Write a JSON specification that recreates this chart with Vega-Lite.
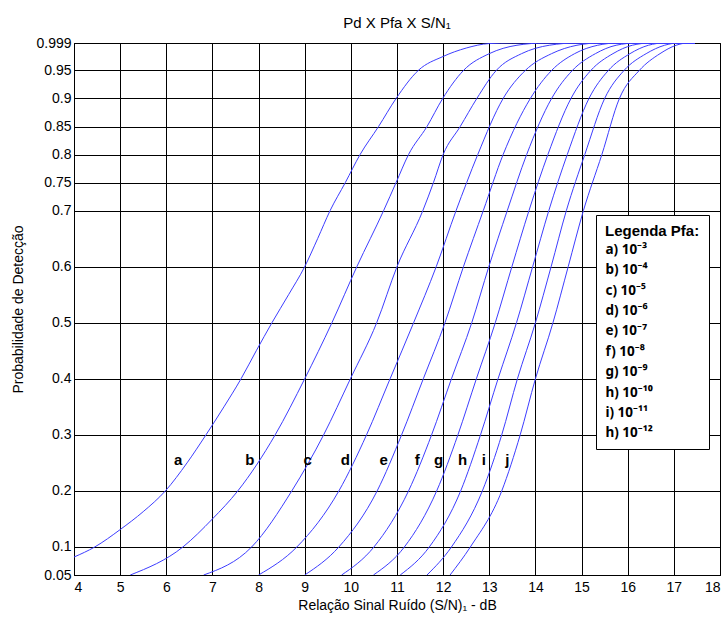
{
  "$schema": "https://vega.github.io/schema/vega-lite/v6.json",
  "width": 646,
  "height": 532,
  "autosize": {"type": "none"},
  "padding": {"left": 74, "top": 43, "right": 8, "bottom": 42},
  "title": {"text": "Pd X Pfa X S/N₁", "fontSize": 15, "fontWeight": "normal", "font": "Liberation Sans", "color": "#000", "offset": 5},
  "config": {
    "font": "Liberation Sans",
    "view": {"stroke": "#000", "strokeWidth": 1},
    "axis": {
      "domainColor": "#000", "gridColor": "#000", "gridOpacity": 1, "gridWidth": 1,
      "ticks": false, "labelColor": "#000", "labelFontSize": 14, "titleColor": "#000",
      "titleFontSize": 14, "titleFontWeight": "normal", "labelFont": "Liberation Sans", "titleFont": "Liberation Sans"
    }
  },
  "datasets": {
    "curvas": [
      {"curva":"a) 10⁻³","snr":4,"pd":0.082},{"curva":"a) 10⁻³","snr":4.45,"pd":0.1},{"curva":"a) 10⁻³","snr":5,"pd":0.131},{"curva":"a) 10⁻³","snr":5.5,"pd":0.163},{"curva":"a) 10⁻³","snr":5.98,"pd":0.2},{"curva":"a) 10⁻³","snr":6.45,"pd":0.25},{"curva":"a) 10⁻³","snr":6.86,"pd":0.3},{"curva":"a) 10⁻³","snr":7.25,"pd":0.35},{"curva":"a) 10⁻³","snr":7.62,"pd":0.4},{"curva":"a) 10⁻³","snr":7.95,"pd":0.45},{"curva":"a) 10⁻³","snr":8.29,"pd":0.5},{"curva":"a) 10⁻³","snr":8.65,"pd":0.55},{"curva":"a) 10⁻³","snr":9.0,"pd":0.6},{"curva":"a) 10⁻³","snr":9.28,"pd":0.65},{"curva":"a) 10⁻³","snr":9.55,"pd":0.7},{"curva":"a) 10⁻³","snr":9.88,"pd":0.75},{"curva":"a) 10⁻³","snr":10.2,"pd":0.8},{"curva":"a) 10⁻³","snr":10.6,"pd":0.85},{"curva":"a) 10⁻³","snr":10.98,"pd":0.9},{"curva":"a) 10⁻³","snr":11.46,"pd":0.95},{"curva":"a) 10⁻³","snr":12.0,"pd":0.975},{"curva":"a) 10⁻³","snr":12.5,"pd":0.99},{"curva":"a) 10⁻³","snr":13.0,"pd":0.998},{"curva":"a) 10⁻³","snr":13.5,"pd":0.999},{"curva":"a) 10⁻³","snr":17.45,"pd":0.999},
      {"curva":"b) 10⁻⁴","snr":5.22,"pd":0.05},{"curva":"b) 10⁻⁴","snr":6.36,"pd":0.1},{"curva":"b) 10⁻⁴","snr":7.0,"pd":0.15},{"curva":"b) 10⁻⁴","snr":7.55,"pd":0.2},{"curva":"b) 10⁻⁴","snr":8.36,"pd":0.3},{"curva":"b) 10⁻⁴","snr":9.0,"pd":0.4},{"curva":"b) 10⁻⁴","snr":9.59,"pd":0.5},{"curva":"b) 10⁻⁴","snr":10.13,"pd":0.6},{"curva":"b) 10⁻⁴","snr":10.71,"pd":0.7},{"curva":"b) 10⁻⁴","snr":10.98,"pd":0.75},{"curva":"b) 10⁻⁴","snr":11.25,"pd":0.8},{"curva":"b) 10⁻⁴","snr":11.65,"pd":0.85},{"curva":"b) 10⁻⁴","snr":11.99,"pd":0.9},{"curva":"b) 10⁻⁴","snr":12.44,"pd":0.95},{"curva":"b) 10⁻⁴","snr":13.0,"pd":0.98},{"curva":"b) 10⁻⁴","snr":13.6,"pd":0.995},{"curva":"b) 10⁻⁴","snr":14.2,"pd":0.999},{"curva":"b) 10⁻⁴","snr":17.45,"pd":0.999},
      {"curva":"c) 10⁻⁵","snr":6.81,"pd":0.05},{"curva":"c) 10⁻⁵","snr":7.85,"pd":0.1},{"curva":"c) 10⁻⁵","snr":8.72,"pd":0.2},{"curva":"c) 10⁻⁵","snr":9.41,"pd":0.3},{"curva":"c) 10⁻⁵","snr":9.99,"pd":0.4},{"curva":"c) 10⁻⁵","snr":10.56,"pd":0.5},{"curva":"c) 10⁻⁵","snr":11.0,"pd":0.6},{"curva":"c) 10⁻⁵","snr":11.56,"pd":0.7},{"curva":"c) 10⁻⁵","snr":11.79,"pd":0.75},{"curva":"c) 10⁻⁵","snr":12.0,"pd":0.8},{"curva":"c) 10⁻⁵","snr":12.37,"pd":0.85},{"curva":"c) 10⁻⁵","snr":12.73,"pd":0.9},{"curva":"c) 10⁻⁵","snr":13.15,"pd":0.95},{"curva":"c) 10⁻⁵","snr":13.7,"pd":0.98},{"curva":"c) 10⁻⁵","snr":14.3,"pd":0.995},{"curva":"c) 10⁻⁵","snr":14.9,"pd":0.999},{"curva":"c) 10⁻⁵","snr":17.45,"pd":0.999},
      {"curva":"d) 10⁻⁶","snr":8.0,"pd":0.05},{"curva":"d) 10⁻⁶","snr":8.83,"pd":0.1},{"curva":"d) 10⁻⁶","snr":9.74,"pd":0.2},{"curva":"d) 10⁻⁶","snr":10.34,"pd":0.3},{"curva":"d) 10⁻⁶","snr":10.85,"pd":0.4},{"curva":"d) 10⁻⁶","snr":11.36,"pd":0.5},{"curva":"d) 10⁻⁶","snr":11.85,"pd":0.6},{"curva":"d) 10⁻⁶","snr":12.28,"pd":0.7},{"curva":"d) 10⁻⁶","snr":12.51,"pd":0.75},{"curva":"d) 10⁻⁶","snr":12.75,"pd":0.8},{"curva":"d) 10⁻⁶","snr":13.3,"pd":0.9},{"curva":"d) 10⁻⁶","snr":13.78,"pd":0.95},{"curva":"d) 10⁻⁶","snr":14.35,"pd":0.98},{"curva":"d) 10⁻⁶","snr":14.9,"pd":0.995},{"curva":"d) 10⁻⁶","snr":15.4,"pd":0.999},{"curva":"d) 10⁻⁶","snr":17.45,"pd":0.999},
      {"curva":"e) 10⁻⁷","snr":9.0,"pd":0.05},{"curva":"e) 10⁻⁷","snr":9.74,"pd":0.1},{"curva":"e) 10⁻⁷","snr":10.57,"pd":0.2},{"curva":"e) 10⁻⁷","snr":11.1,"pd":0.3},{"curva":"e) 10⁻⁷","snr":11.57,"pd":0.4},{"curva":"e) 10⁻⁷","snr":12.04,"pd":0.5},{"curva":"e) 10⁻⁷","snr":12.44,"pd":0.6},{"curva":"e) 10⁻⁷","snr":12.87,"pd":0.7},{"curva":"e) 10⁻⁷","snr":13.3,"pd":0.8},{"curva":"e) 10⁻⁷","snr":13.89,"pd":0.9},{"curva":"e) 10⁻⁷","snr":14.35,"pd":0.95},{"curva":"e) 10⁻⁷","snr":14.85,"pd":0.98},{"curva":"e) 10⁻⁷","snr":15.35,"pd":0.995},{"curva":"e) 10⁻⁷","snr":15.8,"pd":0.999},{"curva":"e) 10⁻⁷","snr":17.45,"pd":0.999},
      {"curva":"f) 10⁻⁸","snr":9.8,"pd":0.05},{"curva":"f) 10⁻⁸","snr":10.5,"pd":0.1},{"curva":"f) 10⁻⁸","snr":11.25,"pd":0.2},{"curva":"f) 10⁻⁸","snr":11.75,"pd":0.3},{"curva":"f) 10⁻⁸","snr":12.18,"pd":0.4},{"curva":"f) 10⁻⁸","snr":12.62,"pd":0.5},{"curva":"f) 10⁻⁸","snr":12.99,"pd":0.6},{"curva":"f) 10⁻⁸","snr":13.39,"pd":0.7},{"curva":"f) 10⁻⁸","snr":13.81,"pd":0.8},{"curva":"f) 10⁻⁸","snr":14.35,"pd":0.9},{"curva":"f) 10⁻⁸","snr":14.8,"pd":0.95},{"curva":"f) 10⁻⁸","snr":15.3,"pd":0.98},{"curva":"f) 10⁻⁸","snr":15.75,"pd":0.995},{"curva":"f) 10⁻⁸","snr":16.2,"pd":0.999},{"curva":"f) 10⁻⁸","snr":17.45,"pd":0.999},
      {"curva":"g) 10⁻⁹","snr":10.49,"pd":0.05},{"curva":"g) 10⁻⁹","snr":11.16,"pd":0.1},{"curva":"g) 10⁻⁹","snr":11.86,"pd":0.2},{"curva":"g) 10⁻⁹","snr":12.32,"pd":0.3},{"curva":"g) 10⁻⁹","snr":12.72,"pd":0.4},{"curva":"g) 10⁻⁹","snr":13.13,"pd":0.5},{"curva":"g) 10⁻⁹","snr":13.49,"pd":0.6},{"curva":"g) 10⁻⁹","snr":13.86,"pd":0.7},{"curva":"g) 10⁻⁹","snr":14.27,"pd":0.8},{"curva":"g) 10⁻⁹","snr":14.77,"pd":0.9},{"curva":"g) 10⁻⁹","snr":15.2,"pd":0.95},{"curva":"g) 10⁻⁹","snr":15.68,"pd":0.98},{"curva":"g) 10⁻⁹","snr":16.1,"pd":0.995},{"curva":"g) 10⁻⁹","snr":16.5,"pd":0.999},{"curva":"g) 10⁻⁹","snr":17.45,"pd":0.999},
      {"curva":"h) 10⁻¹⁰","snr":11.07,"pd":0.05},{"curva":"h) 10⁻¹⁰","snr":11.7,"pd":0.1},{"curva":"h) 10⁻¹⁰","snr":12.38,"pd":0.2},{"curva":"h) 10⁻¹⁰","snr":12.81,"pd":0.3},{"curva":"h) 10⁻¹⁰","snr":13.19,"pd":0.4},{"curva":"h) 10⁻¹⁰","snr":13.59,"pd":0.5},{"curva":"h) 10⁻¹⁰","snr":13.94,"pd":0.6},{"curva":"h) 10⁻¹⁰","snr":14.29,"pd":0.7},{"curva":"h) 10⁻¹⁰","snr":14.69,"pd":0.8},{"curva":"h) 10⁻¹⁰","snr":15.16,"pd":0.9},{"curva":"h) 10⁻¹⁰","snr":15.58,"pd":0.95},{"curva":"h) 10⁻¹⁰","snr":16.05,"pd":0.98},{"curva":"h) 10⁻¹⁰","snr":16.45,"pd":0.995},{"curva":"h) 10⁻¹⁰","snr":16.8,"pd":0.999},{"curva":"h) 10⁻¹⁰","snr":17.45,"pd":0.999},
      {"curva":"i) 10⁻¹¹","snr":11.65,"pd":0.05},{"curva":"i) 10⁻¹¹","snr":12.18,"pd":0.1},{"curva":"i) 10⁻¹¹","snr":12.85,"pd":0.2},{"curva":"i) 10⁻¹¹","snr":13.27,"pd":0.3},{"curva":"i) 10⁻¹¹","snr":13.61,"pd":0.4},{"curva":"i) 10⁻¹¹","snr":14.0,"pd":0.5},{"curva":"i) 10⁻¹¹","snr":14.34,"pd":0.6},{"curva":"i) 10⁻¹¹","snr":14.67,"pd":0.7},{"curva":"i) 10⁻¹¹","snr":15.07,"pd":0.8},{"curva":"i) 10⁻¹¹","snr":15.5,"pd":0.9},{"curva":"i) 10⁻¹¹","snr":15.92,"pd":0.95},{"curva":"i) 10⁻¹¹","snr":16.4,"pd":0.98},{"curva":"i) 10⁻¹¹","snr":16.8,"pd":0.995},{"curva":"i) 10⁻¹¹","snr":17.1,"pd":0.999},{"curva":"i) 10⁻¹¹","snr":17.45,"pd":0.999},
      {"curva":"h) 10⁻¹²","snr":12.15,"pd":0.05},{"curva":"h) 10⁻¹²","snr":12.59,"pd":0.1},{"curva":"h) 10⁻¹²","snr":13.27,"pd":0.2},{"curva":"h) 10⁻¹²","snr":13.67,"pd":0.3},{"curva":"h) 10⁻¹²","snr":14.0,"pd":0.4},{"curva":"h) 10⁻¹²","snr":14.38,"pd":0.5},{"curva":"h) 10⁻¹²","snr":14.71,"pd":0.6},{"curva":"h) 10⁻¹²","snr":15.04,"pd":0.7},{"curva":"h) 10⁻¹²","snr":15.44,"pd":0.8},{"curva":"h) 10⁻¹²","snr":15.82,"pd":0.9},{"curva":"h) 10⁻¹²","snr":16.25,"pd":0.95},{"curva":"h) 10⁻¹²","snr":16.7,"pd":0.98},{"curva":"h) 10⁻¹²","snr":17.05,"pd":0.995},{"curva":"h) 10⁻¹²","snr":17.3,"pd":0.999},{"curva":"h) 10⁻¹²","snr":17.45,"pd":0.999}
    ],
    "letras": [
      {"letra":"a","snr":6.26,"pd":0.246},{"letra":"b","snr":7.81,"pd":0.246},{"letra":"c","snr":9.065,"pd":0.246},{"letra":"d","snr":9.88,"pd":0.246},{"letra":"e","snr":10.71,"pd":0.246},{"letra":"f","snr":11.44,"pd":0.246},{"letra":"g","snr":11.9,"pd":0.246},{"letra":"h","snr":12.42,"pd":0.246},{"letra":"i","snr":12.88,"pd":0.246},{"letra":"j","snr":13.39,"pd":0.246}
    ]
  },
  "encoding": {
    "x": {"field": "snr", "type": "quantitative", "scale": {"domain": [4, 18], "nice": false, "zero": false},
      "axis": {"title": "Relação Sinal Ruído (S/N)₁ - dB", "values": [4,5,6,7,8,9,10,11,12,13,14,15,16,17,18], "labelExpr": "'' + datum.value", "labelPadding": 5, "titlePadding": 4}},
    "y": {"field": "pd", "type": "quantitative", "scale": {"domain": [0.05, 0.999], "nice": false, "zero": false},
      "axis": {"title": "Probabilidade de Detecção", "values": [0.05,0.1,0.2,0.3,0.4,0.5,0.6,0.7,0.75,0.8,0.85,0.9,0.95,0.999], "labelExpr": "'' + datum.value", "labelPadding": 3, "titlePadding": 10}}
  },
  "layer": [
    {
      "data": {"name": "curvas"},
      "mark": {"type": "line", "interpolate": "monotone", "strokeWidth": 1, "clip": true},
      "encoding": {
        "color": {"field": "curva", "type": "nominal",
          "scale": {"domain": ["a) 10⁻³","b) 10⁻⁴","c) 10⁻⁵","d) 10⁻⁶","e) 10⁻⁷","f) 10⁻⁸","g) 10⁻⁹","h) 10⁻¹⁰","i) 10⁻¹¹","h) 10⁻¹²"],
            "range": ["#3d3dff","#3d3dff","#3d3dff","#3d3dff","#3d3dff","#3d3dff","#3d3dff","#3d3dff","#3d3dff","#3d3dff"]},
          "legend": {"orient": "none", "legendX": 522, "legendY": 172, "title": "Legenda Pfa:", "titleFontSize": 15, "titleFontWeight": "bold", "titleColor": "#000", "titlePadding": 4,
            "labelFontSize": 13.5, "labelFontWeight": "bold", "labelColor": "#000", "labelFont": "Noto Sans", "titleFont": "Liberation Sans",
            "symbolSize": 0.0001, "symbolOpacity": 0, "symbolStrokeWidth": 0, "labelOffset": -13, "rowPadding": 5.4, "padding": 9,
            "strokeColor": "#000", "fillColor": "#fff", "cornerRadius": 0, "labelLimit": 200}}
      }
    },
    {
      "data": {"name": "letras"},
      "mark": {"type": "text", "fontWeight": "bold", "fontSize": 15, "color": "#000", "align": "center", "baseline": "alphabetic", "font": "Liberation Sans"},
      "encoding": {"text": {"field": "letra"}}
    }
  ]
}
